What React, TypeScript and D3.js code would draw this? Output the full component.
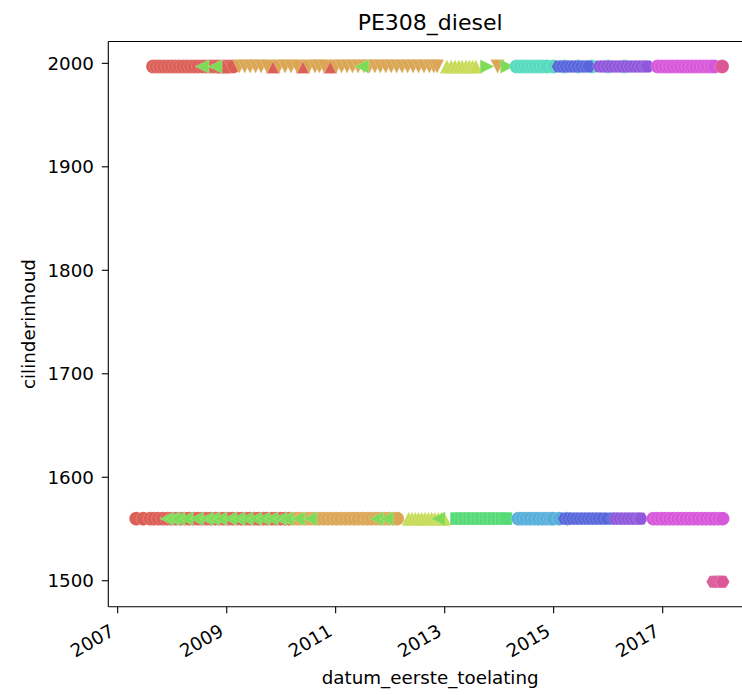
import React from 'react';
import { scaleTime, scaleLinear, symbol, SymbolType } from 'd3';

// hls palette, 11 hues (seaborn "hls")
const hueColors = [
  '#db5f57', '#dba757', '#c7db57', '#7fdb57', '#57db77', '#57dbbf',
  '#57afdb', '#5767db', '#8f57db', '#d757db', '#db5797',
];

const yTicks = [1500, 1600, 1700, 1800, 1900, 2000];
const xTickYears = [2007, 2009, 2011, 2013, 2015, 2017];

// decimal years, row cilinderinhoud = 1997
const topRedCircles = [2007.65, 2007.71, 2007.78, 2007.85, 2007.92, 2007.99, 2008.06, 2008.13, 2008.2, 2008.27, 2008.34, 2008.41, 2008.48, 2008.56, 2008.63, 2008.7, 2008.77, 2008.84, 2008.91, 2008.98, 2009.05, 2009.12];
const topRedTriangles = [2008.94, 2009.85, 2010.4, 2010.9];
const topOrangeDown = [2009.23, 2009.33, 2009.43, 2009.53, 2009.63, 2009.74, 2009.96, 2010.07, 2010.18, 2010.29, 2010.51, 2010.62, 2010.7, 2010.79, 2011.01, 2011.11, 2011.21, 2011.31, 2011.41, 2011.52, 2011.62, 2011.72, 2011.82, 2011.92, 2012.02, 2012.12, 2012.22, 2012.32, 2012.42, 2012.52, 2012.62, 2012.72, 2012.8, 2012.86, 2013.97];
const topGreenLeft = [2008.55, 2008.79, 2011.48];
const topYellowUp = [2013.04, 2013.12, 2013.19, 2013.26, 2013.32, 2013.39, 2013.45, 2013.51, 2013.57];
const topGreenRight = [2013.78, 2014.15];
const topTurquoise = [2014.32, 2014.39, 2014.46, 2014.53, 2014.6, 2014.67, 2014.74, 2014.81, 2014.88, 2015.0, 2015.2, 2015.45, 2015.7, 2016.0, 2016.3];
const topBlue = [2015.09, 2015.16, 2015.23, 2015.3, 2015.37, 2015.44, 2015.51, 2015.58, 2015.64];
const topPurple = [2015.84, 2015.91, 2015.98, 2016.05, 2016.12, 2016.19, 2016.26, 2016.33, 2016.4, 2016.47, 2016.54, 2016.61, 2016.68, 2016.72];
const topMagenta = [2016.91, 2016.98, 2017.05, 2017.12, 2017.19, 2017.26, 2017.33, 2017.4, 2017.47, 2017.54, 2017.61, 2017.68, 2017.75, 2017.82, 2017.89, 2017.95];
const topPink = [2018.09];

// row cilinderinhoud = 1560
const lowRedCircles = [2007.34, 2007.47, 2007.6, 2007.67, 2007.75, 2007.83, 2007.91, 2007.99, 2008.07, 2008.15, 2008.23, 2008.31, 2008.39, 2008.47, 2008.55, 2008.63, 2008.71, 2008.79, 2008.87, 2008.95, 2009.03, 2009.11, 2009.19, 2009.27, 2009.35, 2009.43, 2009.51, 2009.59, 2009.67, 2009.75, 2009.83, 2009.91, 2009.99, 2010.07, 2010.15];
const lowOrange = [2010.22, 2010.3, 2010.38, 2010.46, 2010.54, 2010.62, 2010.7, 2010.78, 2010.86, 2010.94, 2011.02, 2011.1, 2011.18, 2011.26, 2011.34, 2011.42, 2011.5, 2011.58, 2011.66, 2011.74, 2011.82, 2011.9, 2011.98, 2012.06, 2012.13];
const lowYellowUp = [2012.34, 2012.4, 2012.46, 2012.52, 2012.58, 2012.64, 2012.7, 2012.76, 2012.82, 2012.88, 2012.94, 2012.99];
const lowGreenLeft = [2007.9, 2008.01, 2008.11, 2008.26, 2008.45, 2008.63, 2008.75, 2008.88, 2009.06, 2009.21, 2009.36, 2009.52, 2009.67, 2009.82, 2009.98, 2010.1, 2010.31, 2010.53, 2011.75, 2011.93, 2012.88];
const lowGreenSquares = [2013.22, 2013.3, 2013.37, 2013.45, 2013.52, 2013.6, 2013.67, 2013.75, 2013.82, 2013.9, 2013.97, 2014.05, 2014.12];
const lowLightBlue = [2014.35, 2014.42, 2014.5, 2014.57, 2014.65, 2014.72, 2014.8, 2014.87, 2014.94, 2014.99, 2015.1, 2015.25];
const lowBlue = [2015.2, 2015.27, 2015.34, 2015.41, 2015.48, 2015.55, 2015.62, 2015.69, 2015.76, 2015.83, 2015.9, 2015.98, 2016.1];
const lowPurple = [2016.14, 2016.21, 2016.28, 2016.35, 2016.42, 2016.49, 2016.56, 2016.6];
const lowMagenta = [2016.83, 2016.9, 2016.98, 2017.05, 2017.13, 2017.2, 2017.28, 2017.35, 2017.43, 2017.5, 2017.58, 2017.65, 2017.73, 2017.8, 2017.88, 2017.95, 2018.03, 2018.1];

// row cilinderinhoud = 1499
const bottomPink = [2017.93, 2017.98, 2018.03, 2018.08, 2018.1];

type Marker = 'o' | '^' | 'v' | '<' | '>' | 's' | 'H';

// draw order matters (later on top)
const series: { xs: number[]; y: number; hue: number; marker: Marker }[] = [
  { xs: lowRedCircles, y: 1560, hue: 0, marker: 'o' },
  { xs: lowOrange, y: 1560, hue: 1, marker: 'o' },
  { xs: lowYellowUp, y: 1560, hue: 2, marker: '^' },
  { xs: lowGreenLeft, y: 1560, hue: 3, marker: '<' },
  { xs: lowGreenSquares, y: 1560, hue: 4, marker: 's' },
  { xs: lowLightBlue, y: 1560, hue: 6, marker: 'o' },
  { xs: lowBlue, y: 1560, hue: 7, marker: 'H' },
  { xs: lowPurple, y: 1560, hue: 8, marker: 'H' },
  { xs: lowMagenta, y: 1560, hue: 9, marker: 'o' },
  { xs: bottomPink, y: 1499, hue: 10, marker: 'H' },
  { xs: topRedCircles, y: 1997, hue: 0, marker: 'o' },
  { xs: topRedTriangles, y: 1997, hue: 0, marker: '^' },
  { xs: topOrangeDown, y: 1997, hue: 1, marker: 'v' },
  { xs: topGreenLeft, y: 1997, hue: 3, marker: '<' },
  { xs: topYellowUp, y: 1997, hue: 2, marker: '^' },
  { xs: topGreenRight, y: 1997, hue: 3, marker: '>' },
  { xs: topTurquoise, y: 1997, hue: 5, marker: 'o' },
  { xs: topBlue, y: 1997, hue: 7, marker: 'H' },
  { xs: topPurple, y: 1997, hue: 8, marker: 'H' },
  { xs: topMagenta, y: 1997, hue: 9, marker: 'o' },
  { xs: topPink, y: 1997, hue: 10, marker: 'o' },
];

const toDate = (y: number) => {
  const yr = Math.floor(y);
  const a = Date.UTC(yr, 0, 1);
  const b = Date.UTC(yr + 1, 0, 1);
  return new Date(a + (y - yr) * (b - a));
};

// custom symbol types, size = marker diameter in px (matplotlib-like shapes)
const poly = (pts: [number, number][]): SymbolType => ({
  draw(ctx, size) {
    const r = size / 2;
    pts.forEach(([px, py], i) => (i === 0 ? ctx.moveTo(px * r, py * r) : ctx.lineTo(px * r, py * r)));
    ctx.closePath();
  },
});
const circleType: SymbolType = {
  draw(ctx, size) {
    const r = size / 2;
    ctx.moveTo(r, 0);
    ctx.arc(0, 0, r, 0, 2 * Math.PI);
  },
};
const hexPts: [number, number][] = [0, 1, 2, 3, 4, 5].map((k) => [Math.cos((k * Math.PI) / 3), Math.sin((k * Math.PI) / 3)]);
const symbolTypes: Record<Marker, SymbolType> = {
  o: circleType,
  '^': poly([[0, -1], [-1, 1], [1, 1]]),
  v: poly([[0, 1], [-1, -1], [1, -1]]),
  '<': poly([[-1, 0], [1, -1], [1, 1]]),
  '>': poly([[1, 0], [-1, -1], [-1, 1]]),
  s: poly([[-0.92, -0.92], [0.92, -0.92], [0.92, 0.92], [-0.92, 0.92]]),
  H: poly(hexPts),
};

const W = 742;
const H = 695;
const left = 108.3;
const right = 752;
const top = 41.5;
const bottom = 606.7;
const font = 'DejaVu Sans, sans-serif';

const App: React.FC = () => {
  const x = scaleTime().domain([toDate(2006.828), toDate(2018.64)]).range([left, right]);
  const y = scaleLinear().domain([1474.9, 2021.1]).range([bottom, top]);
  const markerSize = 14;

  return (
    <svg width={W} height={H} style={{ position: 'absolute', left: 0, top: 0, background: '#fff' }} fontFamily={font}>
      <defs>
        <clipPath id="plot">
          <rect x={left} y={top} width={right - left} height={bottom - top} />
        </clipPath>
      </defs>
      <g clipPath="url(#plot)">
        {series.map((s, si) => {
          const path = symbol().type(symbolTypes[s.marker]).size(markerSize)() || '';
          return (
            <g key={si} fill={hueColors[s.hue]} stroke="#fff" strokeWidth={0.4} strokeOpacity={0.45}>
              {s.xs.map((v, i) => (
                <path key={i} d={path} transform={`translate(${x(toDate(v))},${y(s.y)})`} />
              ))}
            </g>
          );
        })}
      </g>

      {/* spines */}
      <g stroke="#000" strokeWidth={1.1} fill="none">
        <line x1={left} y1={top} x2={right} y2={top} />
        <line x1={left} y1={bottom} x2={right} y2={bottom} />
        <line x1={left} y1={top} x2={left} y2={bottom} />
        <line x1={right} y1={top} x2={right} y2={bottom} />
      </g>

      {/* y axis */}
      {yTicks.map((t) => (
        <g key={t}>
          <line x1={left - 6.5} x2={left} y1={y(t)} y2={y(t)} stroke="#000" strokeWidth={1.1} />
          <text x={94} y={y(t)} dy="0.36em" textAnchor="end" fontSize={18.3} fill="#000">
            {t}
          </text>
        </g>
      ))}

      {/* x axis */}
      {xTickYears.map((t) => {
        const px = x(toDate(t));
        return (
          <g key={t}>
            <line x1={px} x2={px} y1={bottom} y2={bottom + 6.5} stroke="#000" strokeWidth={1.1} />
            <text
              transform={`translate(${px - 2},${bottom + 28}) rotate(-30)`}
              textAnchor="end"
              fontSize={18.3}
              fill="#000"
            >
              {t}
            </text>
          </g>
        );
      })}

      <text x={(left + right) / 2} y={684} textAnchor="middle" fontSize={18.3} fill="#000">
        datum_eerste_toelating
      </text>
      <text transform={`translate(35,${(top + bottom) / 2}) rotate(-90)`} textAnchor="middle" fontSize={18.3} fill="#000">
        cilinderinhoud
      </text>
      <text x={(left + right) / 2} y={30} textAnchor="middle" fontSize={22} fill="#000">
        PE308_diesel
      </text>
    </svg>
  );
};

export default App;
